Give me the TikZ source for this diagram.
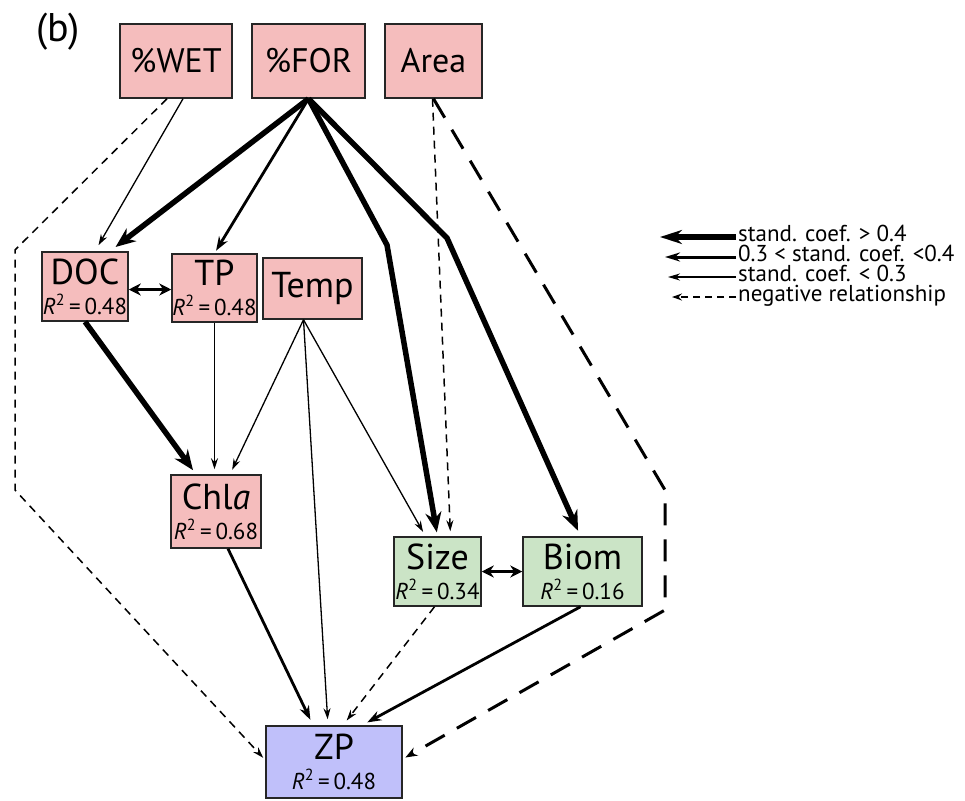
\documentclass[tikz,border=0pt]{standalone}
\usepackage{fontspec}
\setmainfont{PT Sans}
\usetikzlibrary{arrows.meta,calc}
\definecolor{pinkbox}{RGB}{245,189,189}
\definecolor{greenbox}{RGB}{203,228,198}
\definecolor{bluebox}{RGB}{192,192,250}
\newcommand{\rsq}[1]{{\fontsize{23}{23}\selectfont\textit{R}\textsuperscript{2}\,=\,#1}}
\begin{document}
\begin{tikzpicture}[x=1pt,y=-1pt,
  box/.style={draw=black!85, line width=1.5pt, inner sep=0pt, align=center,
    font=\fontsize{36}{30}\selectfont},
  pbox/.style={box, fill=pinkbox},
  gbox/.style={box, fill=greenbox},
  bbox/.style={box, fill=bluebox},
  topbox/.style={pbox, font=\fontsize{34}{34}\selectfont},
  thickarr/.style={line width=5.5pt, line join=round, -{Stealth[length=20pt,width=16pt]}},
  medarr/.style={line width=2.8pt, line join=round, -{Stealth[length=14pt,width=10pt]}},
  thinarr/.style={line width=1.3pt, line join=round, -{Stealth[length=11pt,width=7pt]}},
  dasharr/.style={line width=1.5pt, line join=round, dash pattern=on 8pt off 6pt, -{Stealth[length=11pt,width=7pt]}},
  bigdasharr/.style={line width=3pt, line join=round, dash pattern=on 22pt off 14pt, -{Stealth[length=12pt,width=9pt]}},
  dblarr/.style={line width=3pt, {Stealth[length=12pt,width=12pt]}-{Stealth[length=12pt,width=12pt]}},
  legtext/.style={font=\fontsize{23}{23}\selectfont, inner sep=0pt, anchor=west,
    text height=8.5pt, text depth=0pt}
]
\useasboundingbox (0,0) rectangle (965,800);

% panel label
\node[font=\fontsize{40}{40}\selectfont, inner sep=0pt] (lab) at (58,32) {(b)};

% nodes
\node[topbox, minimum width=112pt, minimum height=74pt] (WET) at (176,61) {\%WET};
\node[topbox, minimum width=113pt, minimum height=74pt] (FOR) at (308.5,61) {\%FOR};
\node[topbox, minimum width=97pt, minimum height=74pt] (Area) at (433.5,61) {Area};

\node[pbox, minimum width=86pt, minimum height=69pt] (DOC) at (85,286.5) {DOC\\\rsq{0.48}};
\node[pbox, minimum width=85pt, minimum height=68pt] (TP) at (214.5,288) {TP\\\rsq{0.48}};
\node[pbox, minimum width=99pt, minimum height=61pt] (Temp) at (312.5,288.5) {Temp};
\node[pbox, minimum width=90pt, minimum height=73pt] (Chla) at (216,511.5) {Chl\textit{a}\\\rsq{0.68}};
\node[gbox, minimum width=87pt, minimum height=69pt] (Size) at (437.5,571.5) {Size\\\rsq{0.34}};
\node[gbox, minimum width=119pt, minimum height=69pt] (Biom) at (582.5,571.5) {Biom\\\rsq{0.16}};
\node[bbox, minimum width=136pt, minimum height=72pt] (ZP) at (334,762) {ZP\\\rsq{0.48}};

% waypoints
\coordinate (w1) at (15,250);
\coordinate (w2) at (15,490);
\coordinate (s1) at (387,245);
\coordinate (b1) at (447,238);
\coordinate (a1) at (665,490);
\coordinate (a2) at (665,610);

% connectors from the top row
\draw[dasharr, shorten >=3pt] ([xshift=-9pt]WET.south) -- (w1) -- (w2) -- ([yshift=2pt]ZP.west);
\draw[thinarr, shorten >=7pt] ([xshift=7pt]WET.south) -- ([xshift=10pt]DOC.north);
\draw[thickarr, shorten >=7pt] (FOR.south) -- ([xshift=25pt]DOC.north);
\draw[medarr, shorten >=3pt] (FOR.south) -- (TP.north);
\draw[thickarr, shorten >=4pt] (FOR.south) -- (s1) -- (Size.north);
\draw[thickarr, shorten >=6pt] (FOR.south) -- (b1) -- ([xshift=-2pt]Biom.north);
\draw[dasharr, shorten >=5pt] ([xshift=-1pt]Area.south) -- ([xshift=13pt]Size.north);
\draw[bigdasharr, shorten >=3pt] (Area.south) -- (a1) -- (a2) -- ([yshift=3pt]ZP.east);

% second row
\draw[dblarr] ([yshift=-3pt]DOC.east) -- ([yshift=-3pt]DOC.east -| TP.west);
\draw[thickarr, shorten >=5pt] (DOC.south) -- ([xshift=-20pt]Chla.north);
\draw[thinarr, shorten >=5pt] (TP.south) -- (TP.south |- Chla.north);
\draw[thinarr, shorten >=5pt] ([xshift=-9pt]Temp.south) -- ([xshift=14pt]Chla.north);
\draw[thinarr, shorten >=5pt] ([xshift=-9pt]Temp.south) -- ([xshift=-12pt]Size.north);
\draw[thinarr, shorten >=6pt] ([xshift=-9pt]Temp.south) -- ([xshift=-6pt]ZP.north);

% lower connectors
\draw[dblarr] (Size.east) -- (Biom.west);
\draw[medarr, shorten >=6pt] ([xshift=12pt]Chla.south) -- ([xshift=-21pt]ZP.north);
\draw[dasharr, shorten >=6pt] ([xshift=-3pt]Size.south) -- ([xshift=9pt]ZP.north);
\draw[medarr, shorten >=6pt] ([xshift=-2pt]Biom.south) -- ([xshift=28pt]ZP.north);

% legend
\node[legtext] (L1) at (738,237) {stand. coef. > 0.4};
\node[legtext] (L2) at (738,257) {0.3 < stand. coef. <0.4};
\node[legtext] (L3) at (738,277) {stand. coef. < 0.3};
\node[legtext] (L4) at (738,297) {negative relationship};
\coordinate (E1) at (660,237);
\coordinate (E2) at (665,257);
\coordinate (E3) at (668,277);
\coordinate (E4) at (672,297);
\draw[line width=5.5pt, -{Stealth[length=22pt,width=14pt]}] ([xshift=-2pt]L1.west) -- (E1);
\draw[line width=3pt, -{Stealth[length=15pt,width=9pt]}] ([xshift=-2pt]L2.west) -- (E2);
\draw[line width=1.5pt, -{Stealth[length=12pt,width=7pt]}] ([xshift=-2pt]L3.west) -- (E3);
\draw[line width=1.5pt, dash pattern=on 7pt off 5pt, -{Stealth[length=10pt,width=7pt]}] ([xshift=-2pt]L4.west) -- (E4);
\end{tikzpicture}
\end{document}
